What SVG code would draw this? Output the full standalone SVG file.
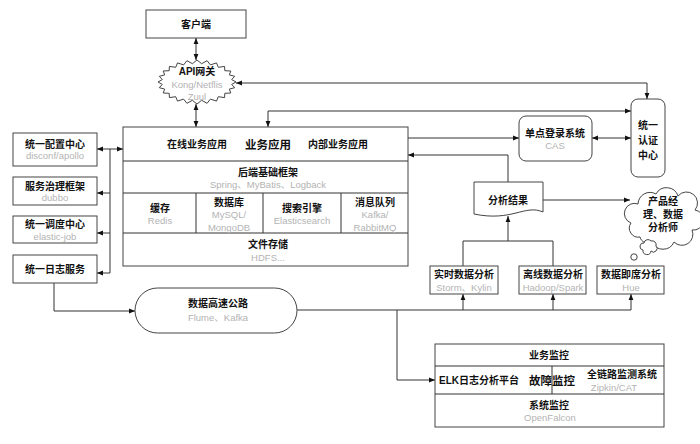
<svg xmlns="http://www.w3.org/2000/svg" width="700" height="444" viewBox="0 0 700 444">
<defs>
<marker id="ah" viewBox="0 0 10 10" refX="10" refY="5" markerWidth="6" markerHeight="6" markerUnits="userSpaceOnUse" orient="auto-start-reverse"><path d="M0,1 L10,5 L0,9 Z" fill="#111"/></marker>
</defs>
<style>
.bx{fill:#fff;stroke:#444;stroke-width:1}
.ln{fill:none;stroke:#333;stroke-width:1}
.t{font-family:"Liberation Sans","Noto Sans CJK SC",sans-serif;font-size:10px;font-weight:bold;fill:#111;text-anchor:middle}
.tl{font-size:11.5px}
.g{font-family:"Liberation Sans","Noto Sans CJK SC",sans-serif;font-size:9.5px;fill:#b3b3b3;text-anchor:middle}
</style>
<rect width="700" height="444" fill="#fff"/>

<g id="connectors">
<path class="ln" d="M196,38 V60" marker-start="url(#ah)" marker-end="url(#ah)"/>
<path class="ln" d="M196,104 V127" marker-start="url(#ah)" marker-end="url(#ah)"/>
<path class="ln" d="M236,83 H647 V99" marker-start="url(#ah)" marker-end="url(#ah)"/>
<path class="ln" d="M268,127 V111 H631" marker-start="url(#ah)" marker-end="url(#ah)"/>
<path class="ln" d="M268,127 V161"/>
<path class="ln" d="M408,138 H519" marker-end="url(#ah)"/>
<path class="ln" d="M592,138 H631" marker-start="url(#ah)" marker-end="url(#ah)"/>
<path class="ln" d="M508,182 V155 H408" marker-end="url(#ah)"/>
<path class="ln" d="M543,200 H630" marker-end="url(#ah)"/>
<path class="ln" d="M463,266 V241 H553 V266"/>
<path class="ln" d="M508,241 V216" marker-end="url(#ah)"/>
<path class="ln" d="M297,310 H631"/>
<path class="ln" d="M463,310 V294" marker-end="url(#ah)"/>
<path class="ln" d="M553,310 V294" marker-end="url(#ah)"/>
<path class="ln" d="M631,310 V294" marker-end="url(#ah)"/>
<path class="ln" d="M397,310 V380 H435" marker-end="url(#ah)"/>
<path class="ln" d="M54,283 V311 H135" marker-end="url(#ah)"/>
<path class="ln" d="M110,149 V273"/>
<path class="ln" d="M110,149 H97" marker-end="url(#ah)"/>
<path class="ln" d="M110,149 H123" marker-end="url(#ah)"/>
<path class="ln" d="M110,193 H97" marker-end="url(#ah)"/>
<path class="ln" d="M110,233 H97" marker-end="url(#ah)"/>
<path class="ln" d="M110,273 H97" marker-end="url(#ah)"/>
</g>

<g id="client">
<rect class="bx" x="146" y="10" width="100" height="28"/>
<text class="t" x="196" y="28">客户端</text>
</g>

<g id="gateway">
<polygon class="bx" points="236,82 231.7,84.4 234.7,87.7 229.3,89.1 230.8,93 224.8,93.3 224.6,97.6 218.3,96.7 216.5,101.1 210.4,99.1 207.1,103.3 201.6,100.3 197,104 192.4,100.3 186.9,103.3 183.6,99.1 177.5,101.1 175.7,96.7 169.4,97.6 169.2,93.3 163.2,93 164.7,89.1 159.3,87.7 162.3,84.4 158,82 162.3,79.6 159.3,76.3 164.7,74.9 163.2,71 169.2,70.7 169.4,66.4 175.7,67.3 177.5,62.9 183.6,64.9 186.9,60.7 192.4,63.7 197,60 201.6,63.7 207.1,60.7 210.4,64.9 216.5,62.9 218.3,67.3 224.6,66.4 224.8,70.7 230.8,71 229.3,74.9 234.7,76.3 231.7,79.6"/>
<text class="t" x="197" y="75">API网关</text>
<text class="g" x="197" y="88">Kong/Netflis</text>
<text class="g" x="197" y="100">Zuul</text>
</g>

<g id="main">
<rect class="bx" x="123" y="127" width="285" height="139"/>
<path class="ln" d="M123,161 H408 M123,193 H408 M123,233 H408 M196,193 V233 M263,193 V233 M341,193 V233"/>
<text class="t" x="197" y="148">在线业务应用</text>
<text class="t tl" x="268" y="149">业务应用</text>
<text class="t" x="338" y="148">内部业务应用</text>
<text class="t" x="268" y="176">后端基础框架</text>
<text class="g" x="268" y="188">Spring、MyBatis、Logback</text>
<text class="t" x="160" y="212">缓存</text>
<text class="g" x="160" y="224">Redis</text>
<text class="t" x="229" y="206">数据库</text>
<text class="g" x="229" y="218">MySQL/</text>
<text class="g" x="229" y="231">MongoDB</text>
<text class="t" x="302" y="212">搜索引擎</text>
<text class="g" x="302" y="224">Elasticsearch</text>
<text class="t" x="375" y="206">消息队列</text>
<text class="g" x="375" y="218">Kafka/</text>
<text class="g" x="375" y="231">RabbitMQ</text>
<text class="t" x="268" y="248">文件存储</text>
<text class="g" x="268" y="261">HDFS...</text>
</g>

<g id="config">
<rect class="bx" x="13" y="133" width="84" height="33"/>
<text class="t" x="55" y="148">统一配置中心</text>
<text class="g" x="55" y="159">disconf/apollo</text>
</g>
<g id="governance">
<rect class="bx" x="13" y="177" width="84" height="28"/>
<text class="t" x="55" y="190">服务治理框架</text>
<text class="g" x="55" y="201">dubbo</text>
</g>
<g id="schedule">
<rect class="bx" x="13" y="216" width="84" height="27"/>
<text class="t" x="55" y="228">统一调度中心</text>
<text class="g" x="55" y="240">elastic-job</text>
</g>
<g id="log">
<rect class="bx" x="13" y="255" width="84" height="28"/>
<text class="t" x="55" y="273">统一日志服务</text>
</g>

<g id="sso">
<rect class="bx" x="519" y="116" width="73" height="45" rx="7"/>
<text class="t" x="555" y="137">单点登录系统</text>
<text class="g" x="555" y="149">CAS</text>
</g>

<g id="auth">
<rect class="bx" x="631" y="99" width="34" height="78" rx="7"/>
<text class="t" x="648" y="129">统一</text>
<text class="t" x="648" y="144">认证</text>
<text class="t" x="648" y="159">中心</text>
</g>

<g id="result">
<path class="bx" d="M474,182 H543 V212 C525,204 512,222 474,214 Z"/>
<text class="t" x="508" y="204">分析结果</text>
</g>

<g id="pm">
<path class="bx" d="M640,237 A9,9 0 0 1 631,223 A10,10 0 0 1 638,204 A12,12 0 0 1 656,194 A12,12 0 0 1 678,196 A11,11 0 0 1 695,210 A10,10 0 0 1 692,230 A11,11 0 0 1 674,242 A12,12 0 0 1 652,242 A8,8 0 0 1 640,237 Z"/>
<path class="bx" d="M643,250 A3.5,3.5 0 0 1 644,243 A4,4 0 0 1 651,241 A4,4 0 0 1 656,246 A3.5,3.5 0 0 1 651,251 A4,4 0 0 1 643,250 Z"/>
<circle class="bx" cx="634" cy="257" r="3.2"/>
<text class="t" x="663" y="205">产品经</text>
<text class="t" x="663" y="218">理、数据</text>
<text class="t" x="663" y="231">分析师</text>
</g>

<g id="realtime">
<rect class="bx" x="430" y="266" width="68" height="28"/>
<text class="t" x="464" y="278">实时数据分析</text>
<text class="g" x="464" y="291">Storm、Kylin</text>
</g>
<g id="offline">
<rect class="bx" x="519" y="266" width="67" height="28"/>
<text class="t" x="553" y="278">离线数据分析</text>
<text class="g" x="553" y="291">Hadoop/Spark</text>
</g>
<g id="adhoc">
<rect class="bx" x="597" y="266" width="67" height="28"/>
<text class="t" x="631" y="278">数据即席分析</text>
<text class="g" x="631" y="291">Hue</text>
</g>

<g id="highway">
<rect class="bx" x="135" y="288" width="162" height="45" rx="22.5"/>
<text class="t" x="218" y="307">数据高速公路</text>
<text class="g" x="218" y="321">Flume、Kafka</text>
</g>

<g id="monitor">
<rect class="bx" x="435" y="344" width="229" height="83"/>
<path class="ln" d="M435,366 H664 M435,394 H664 M552,366 V394"/>
<text class="t" x="549" y="359">业务监控</text>
<text class="t" x="439" y="384" style="text-anchor:start">ELK日志分析平台</text>
<text class="t tl" x="552" y="385">故障监控</text>
<text class="t" x="622" y="378">全链路监测系统</text>
<text class="g" x="614" y="391">Zipkin/CAT</text>
<text class="t" x="549" y="409">系统监控</text>
<text class="g" x="550" y="421">OpenFalcon</text>
</g>
</svg>
